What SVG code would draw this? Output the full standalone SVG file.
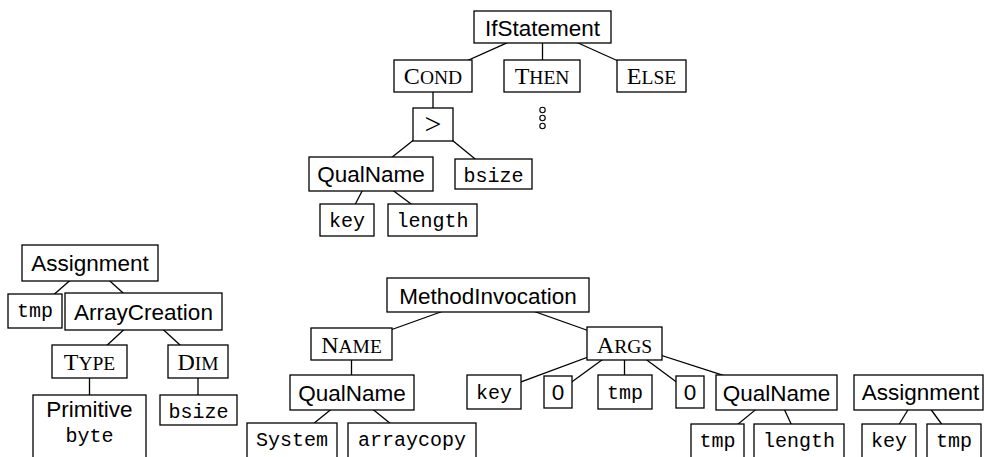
<svg xmlns="http://www.w3.org/2000/svg" width="985" height="457" viewBox="0 0 985 457">
<style>
.box{fill:#fff;stroke:#000;stroke-width:1.3}
#edges line{stroke:#000;stroke-width:1.3}
text{fill:#000;text-anchor:middle}
.sf{font-family:"Liberation Sans",Arial,sans-serif;font-size:22.5px}
.tt{font-family:"Liberation Mono","Courier New",monospace;font-size:20px}
.sc{font-family:"Liberation Serif","Times New Roman",serif;font-size:24px}
.sc tspan{font-size:19.5px}
.mth{font-family:"Liberation Serif","Times New Roman",serif;font-size:30px}
.dot{fill:none;stroke:#000;stroke-width:1.1}
</style>
<rect width="985" height="457" fill="#fff"/>
<g id="edges">
<line x1="542.5" y1="27" x2="433" y2="76"/>
<line x1="542.5" y1="27" x2="542.5" y2="76"/>
<line x1="542.5" y1="27" x2="651.5" y2="76"/>
<line x1="433" y1="76" x2="433" y2="124.5"/>
<line x1="433" y1="124.5" x2="371" y2="174"/>
<line x1="433" y1="124.5" x2="493.5" y2="174"/>
<line x1="371" y1="174" x2="347" y2="220"/>
<line x1="371" y1="174" x2="432.5" y2="220"/>
<line x1="90" y1="263" x2="35" y2="311"/>
<line x1="90" y1="263" x2="143.5" y2="311.5"/>
<line x1="143.5" y1="311.5" x2="89.5" y2="361.5"/>
<line x1="143.5" y1="311.5" x2="198" y2="361.5"/>
<line x1="89.5" y1="361.5" x2="89.5" y2="420"/>
<line x1="198" y1="361.5" x2="198" y2="410"/>
<line x1="488" y1="295" x2="351.5" y2="344"/>
<line x1="488" y1="295" x2="624.5" y2="343.5"/>
<line x1="351.5" y1="344" x2="351.5" y2="392.5"/>
<line x1="352" y1="392.5" x2="292" y2="441"/>
<line x1="352" y1="392.5" x2="412" y2="441"/>
<line x1="624.5" y1="343.5" x2="494" y2="392"/>
<line x1="624.5" y1="343.5" x2="558" y2="392"/>
<line x1="624.5" y1="343.5" x2="624.5" y2="392"/>
<line x1="624.5" y1="343.5" x2="690" y2="392"/>
<line x1="624.5" y1="343.5" x2="776.5" y2="392.5"/>
<line x1="776.5" y1="392.5" x2="717.5" y2="441"/>
<line x1="776.5" y1="392.5" x2="799" y2="441"/>
<line x1="918.5" y1="392.5" x2="889" y2="441"/>
<line x1="918.5" y1="392.5" x2="954" y2="441"/>
</g>
<g id="ifstatement"><rect class="box" x="474" y="11" width="137" height="32"/><text class="sf" x="542.5" y="35.5">IfStatement</text></g>
<g id="cond"><rect class="box" x="394" y="60" width="78" height="32"/><text class="sc" x="433" y="84">C<tspan>OND</tspan></text></g>
<g id="then"><rect class="box" x="504" y="60" width="76" height="32"/><text class="sc" x="542" y="84">T<tspan>HEN</tspan></text></g>
<g id="else"><rect class="box" x="617" y="60" width="69" height="32"/><text class="sc" x="651.5" y="84">E<tspan>LSE</tspan></text></g>
<g id="then-dots"><circle class="dot" cx="542.5" cy="110" r="2.7"/><circle class="dot" cx="542.5" cy="118" r="2.7"/><circle class="dot" cx="542.5" cy="126" r="2.7"/></g>
<g id="gt"><rect class="box" x="413" y="108" width="40" height="33"/><text class="mth" x="433" y="134">&gt;</text></g>
<g id="qualname1"><rect class="box" x="309" y="157" width="124" height="34"/><text class="sf" x="371" y="181.5">QualName</text></g>
<g id="bsize1"><rect class="box" x="455" y="159" width="77" height="30"/><text class="tt" x="493.5" y="181.7">bsize</text></g>
<g id="key1"><rect class="box" x="320" y="204" width="54" height="32"/><text class="tt" x="347" y="226.7">key</text></g>
<g id="length1"><rect class="box" x="388" y="204" width="89" height="32"/><text class="tt" x="432.5" y="226.7">length</text></g>
<g id="assignment1"><rect class="box" x="22" y="245" width="136" height="36"/><text class="sf" x="90" y="270.7">Assignment</text></g>
<g id="tmp1"><rect class="box" x="8" y="294" width="54" height="34"/><text class="tt" x="35" y="316.7">tmp</text></g>
<g id="arraycreation"><rect class="box" x="65" y="293" width="157" height="37"/><text class="sf" x="143.5" y="319.5">ArrayCreation</text></g>
<g id="type"><rect class="box" x="52" y="345" width="75" height="33"/><text class="sc" x="89.5" y="370">T<tspan>YPE</tspan></text></g>
<g id="dim"><rect class="box" x="168" y="345" width="60" height="33"/><text class="sc" x="198" y="370">D<tspan>IM</tspan></text></g>
<g id="primitive"><rect class="box" x="33" y="395" width="113" height="64"/><text class="sf" x="89.5" y="417">Primitive</text><text class="tt" x="89.5" y="442">byte</text></g>
<g id="bsize2"><rect class="box" x="160" y="395" width="77" height="30"/><text class="tt" x="198.5" y="417.7">bsize</text></g>
<g id="methodinvocation"><rect class="box" x="387" y="278" width="202" height="34"/><text class="sf" x="488" y="304">MethodInvocation</text></g>
<g id="name"><rect class="box" x="311" y="328" width="81" height="32"/><text class="sc" x="351.5" y="353">N<tspan>AME</tspan></text></g>
<g id="args"><rect class="box" x="587" y="327" width="75" height="33"/><text class="sc" x="624.5" y="352.5">A<tspan>RGS</tspan></text></g>
<g id="qualname2"><rect class="box" x="290" y="375" width="124" height="35"/><text class="sf" x="352" y="400.5">QualName</text></g>
<g id="system"><rect class="box" x="247" y="423" width="90" height="36"/><text class="tt" x="292" y="446">System</text></g>
<g id="arraycopy"><rect class="box" x="348" y="423" width="128" height="36"/><text class="tt" x="412" y="446">arraycopy</text></g>
<g id="key2"><rect class="box" x="467" y="375" width="54" height="34"/><text class="tt" x="494" y="398.5">key</text></g>
<g id="zero1"><rect class="box" x="544" y="376" width="28" height="32"/><text class="sf" x="558" y="399.5">0</text></g>
<g id="tmp2"><rect class="box" x="598" y="375" width="54" height="34"/><text class="tt" x="625" y="398.5">tmp</text></g>
<g id="zero2"><rect class="box" x="676" y="376" width="28" height="32"/><text class="sf" x="690" y="399.5">0</text></g>
<g id="qualname3"><rect class="box" x="716" y="375" width="121" height="35"/><text class="sf" x="776.5" y="400.5">QualName</text></g>
<g id="tmp3"><rect class="box" x="691" y="424" width="53" height="36"/><text class="tt" x="717.5" y="447">tmp</text></g>
<g id="length2"><rect class="box" x="754" y="424" width="90" height="36"/><text class="tt" x="799" y="447">length</text></g>
<g id="assignment2"><rect class="box" x="854" y="375" width="129" height="35"/><text class="sf" x="920.5" y="400">Assignment</text></g>
<g id="key3"><rect class="box" x="862" y="424" width="54" height="36"/><text class="tt" x="889" y="447">key</text></g>
<g id="tmp4"><rect class="box" x="927" y="424" width="54" height="36"/><text class="tt" x="954" y="447">tmp</text></g>
</svg>
